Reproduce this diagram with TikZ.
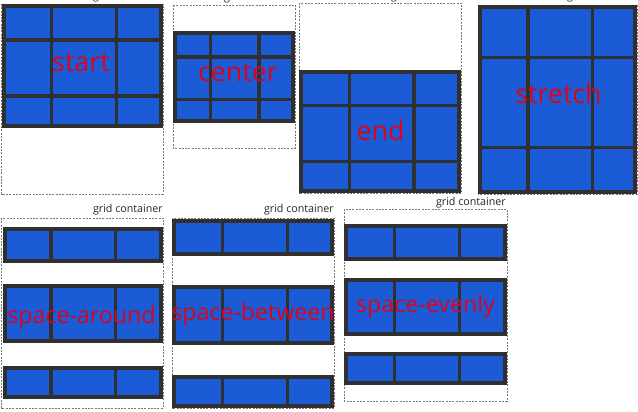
\documentclass[tikz,border=0pt]{standalone}
\usepackage{fontspec}
\setmainfont{Open Sans}
\definecolor{cellblue}{RGB}{27,92,214}
\definecolor{gline}{RGB}{48,48,48}
\definecolor{lblred}{RGB}{218,4,28}
\definecolor{dashgray}{RGB}{120,120,120}
\newcommand\rowcells[6]{%
  \fill[cellblue] ({#1+4},{#5}) rectangle ({#3-1.7},{#6});
  \fill[cellblue] ({#3+1.7},{#5}) rectangle ({#4-1.7},{#6});
  \fill[cellblue] ({#4+1.7},{#5}) rectangle ({#2-4},{#6});
}
\newcommand\fullgrid[8]{%
  \fill[gline] (#1,#2) rectangle (#3,#4);
  \rowcells{#1}{#3}{#5}{#6}{#2+4}{#7-1.7}
  \rowcells{#1}{#3}{#5}{#6}{#7+1.7}{#8-1.7}
  \rowcells{#1}{#3}{#5}{#6}{#8+1.7}{#4-4}
}
\newcommand\singlerow[6]{%
  \fill[gline] (#1,#5) rectangle (#2,#6);
  \rowcells{#1}{#2}{#3}{#4}{#5+4}{#6-4}
}
\tikzset{
  container/.style={draw=dashgray, line width=0.7pt, dash pattern=on 2pt off 1.3pt},
  bigword/.style={text=lblred, anchor=base, inner sep=0pt, font=\fontsize{26.8}{30}\selectfont},
  smallword/.style={text=lblred, anchor=base, inner sep=0pt, font=\fontsize{23.2}{26}\selectfont},
  gclabel/.style={text=black!85, anchor=base east, inner sep=0pt, font=\fontsize{10.7}{12}\selectfont},
}
\begin{document}
\begin{tikzpicture}[x=1pt,y=-1pt]
\useasboundingbox (0,0) rectangle (638,412);
\clip (0,0) rectangle (638,412);
\fill[white] (0,0) rectangle (638,412);

% ---- top row: align-content start / center / end / stretch
\draw[container] (1.5,4) rectangle (163,194);
\fullgrid{2}{4}{163}{128}{51.5}{116.5}{40}{96}
\node[gclabel] (gc1) at (163,-0.5) {grid container};
\node[bigword] (start) at (81,72) {start};

\draw[container] (173,5) rectangle (295,148);
\fullgrid{173}{31}{295}{123}{210.5}{259}{57}{99.5}
\node[gclabel] (gc2) at (294,1) {grid container};
\node[bigword] (center) at (238,81.5) {center};

\draw[container] (299,3) rectangle (461,193);
\fullgrid{299}{70}{461}{193}{349.5}{414}{105.5}{161.5}
\node[gclabel] (gc3) at (461,-0.5) {grid container};
\node[bigword] (end) at (380.5,140) {end};

\draw[container] (478,5) rectangle (637,194);
\fullgrid{478}{5}{637}{194}{528}{592.5}{57.5}{147.5}
\node[gclabel] (gc4) at (637,-0.5) {grid container};
\node[bigword] (stretch) at (558.5,103) {stretch};

% ---- bottom row: space-around / space-between / space-evenly
\draw[container] (1,218) rectangle (163,408);
\singlerow{3}{163}{51}{115.5}{227}{263}
\singlerow{3}{163}{51}{115.5}{284}{343}
\singlerow{3}{163}{51}{115.5}{366}{399}
\node[gclabel] (gc5) at (163,212) {grid container};
\node[smallword] (around) at (81.5,323) {space-around};

\draw[container] (172,218) rectangle (334,408);
\singlerow{172}{334}{222.5}{287.5}{219}{256}
\singlerow{172}{334}{222.5}{287.5}{285}{345}
\singlerow{172}{334}{222.5}{287.5}{375}{408}
\node[gclabel] (gc6) at (334,212) {grid container};
\node[smallword] (between) at (253,320) {space-between};

\draw[container] (344,209) rectangle (507,401);
\singlerow{344}{507}{394.5}{459.5}{224}{261}
\singlerow{344}{507}{394.5}{459.5}{278}{336}
\singlerow{344}{507}{394.5}{459.5}{352}{385}
\node[gclabel] (gc7) at (506,205) {grid container};
\node[smallword] (evenly) at (425.5,312) {space-evenly};
\end{tikzpicture}
\end{document}
